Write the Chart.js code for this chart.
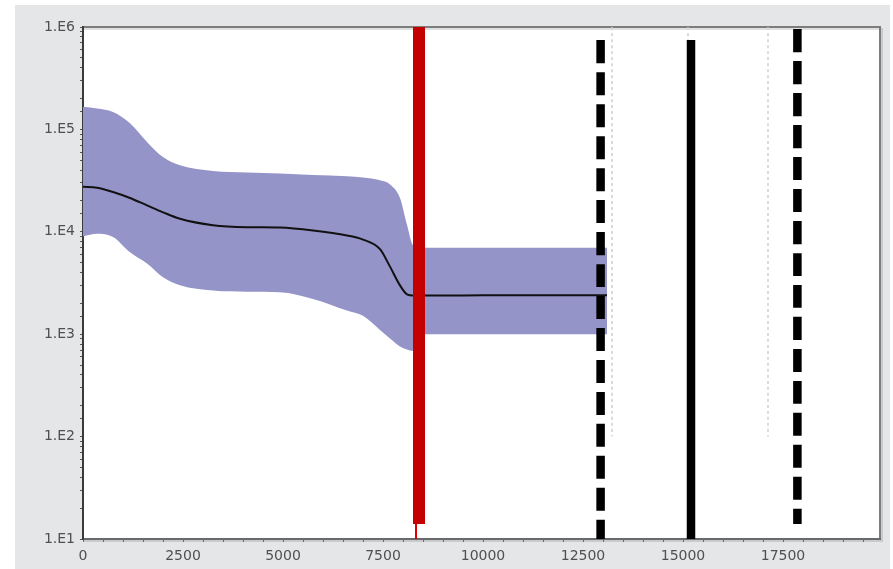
<!DOCTYPE html>
<html>
<head>
<meta charset="utf-8">
<script src="https://cdn.jsdelivr.net/npm/chart.js@4.4.1/dist/chart.umd.min.js"></script>
<style>
  html, body { margin: 0; padding: 0; background: #ffffff; width: 893px; height: 569px; overflow: hidden; }
  #panel { position: absolute; left: 15px; top: 5px; width: 875px; height: 564px; background: #e4e6e7; }
  #c { position: absolute; left: 0; top: 0; }
</style>
</head>
<body>
<div id="panel"></div>
<canvas id="c" width="893" height="569"></canvas>
<script>
// ---- data ----
const xs     = [0, 350, 750, 1175, 1600, 2000, 2425, 3250, 4100, 4925, 5750, 6600, 7000, 7425, 7675, 7925, 8100, 8250, 8550, 9500, 10500, 11500, 12500, 13100];
const upper  = [166000, 160000, 148000, 115000, 75500, 53700, 44700, 39300, 38000, 37000, 35900, 34800, 33900, 31800, 29000, 21400, 11700, 7400, 6980, 6980, 6990, 7000, 7000, 7000];
const lower  = [9000, 9550, 8900, 6300, 4900, 3600, 3000, 2670, 2600, 2570, 2210, 1700, 1510, 1100, 910, 760, 710, 690, 1000, 1000, 1000, 1000, 1000, 1000];
const median = [27500, 26900, 24500, 21400, 18100, 15500, 13400, 11600, 11100, 11000, 10300, 9200, 8400, 6760, 4570, 3000, 2450, 2390, 2390, 2390, 2400, 2400, 2400, 2400];

// vertical markers: [x, yFrom, yTo]
const redBar    = [8400, 14, 1e6];
const redThin   = [8325, 10, 14];
const dashLineA = [12940, 746000, 10];
const solidLine = [15200, 746000, 10];
const dashLineB = [17860, 1e6, 14];
const dotLines  = [13225, 15125, 17125];
const dotRange  = [100, 1e6];

const xMax = 19925;
const xTickStep = 500;
const xTickLabels = [0, 2500, 5000, 7500, 10000, 12500, 15000, 17500];
const yTickLabels = ['1.E1', '1.E2', '1.E3', '1.E4', '1.E5', '1.E6'];

// ---- build datasets (lower "order" = drawn on top) ----
const pts = (arr) => xs.map((x, i) => ({ x: x, y: arr[i] }));
const vline = (v) => [{ x: v[0], y: v[1] }, { x: v[0], y: v[2] }];

const datasets = [
  { data: pts(lower), order: 20, borderWidth: 0, borderColor: 'rgba(0,0,0,0)', pointRadius: 0, fill: false, cubicInterpolationMode: 'monotone' },
  { data: pts(upper), order: 20, borderWidth: 0, borderColor: 'rgba(0,0,0,0)', pointRadius: 0, fill: '-1', backgroundColor: '#9494c8', cubicInterpolationMode: 'monotone' },
  { data: pts(median), order: 10, borderWidth: 2, borderColor: '#111111', pointRadius: 0, fill: false, cubicInterpolationMode: 'monotone' }
];
dotLines.forEach(x => datasets.push({ data: [{ x: x, y: dotRange[1] }, { x: x, y: dotRange[0] }], order: 8, borderWidth: 1.5, borderColor: '#d0d0d0', borderDash: [3, 3], pointRadius: 0, fill: false }));
datasets.push({ data: vline(redThin), order: 5, borderWidth: 2, borderColor: '#e00000', pointRadius: 0, fill: false });
datasets.push({ data: vline(redBar), order: 4, borderWidth: 12, borderColor: '#c40000', pointRadius: 0, fill: false, borderCapStyle: 'butt' });
datasets.push({ data: vline(dashLineA), order: 3, borderWidth: 8.5, borderColor: '#000000', borderDash: [23, 9], pointRadius: 0, fill: false, borderCapStyle: 'butt' });
datasets.push({ data: vline(solidLine), order: 3, borderWidth: 8.5, borderColor: '#000000', pointRadius: 0, fill: false, borderCapStyle: 'butt' });
datasets.push({ data: vline(dashLineB), order: 3, borderWidth: 8.5, borderColor: '#000000', borderDash: [23, 9], borderDashOffset: -2, pointRadius: 0, fill: false, borderCapStyle: 'butt', clip: false });

const bgPlugin = {
  id: 'plotBg',
  beforeDraw(chart) {
    const a = chart.chartArea, ctx = chart.ctx;
    ctx.save();
    ctx.fillStyle = '#ffffff';
    ctx.fillRect(a.left, a.top, a.right - a.left, a.bottom - a.top);
    ctx.strokeStyle = 'rgba(0,0,0,0.12)';
    ctx.lineWidth = 2;
    ctx.beginPath();
    ctx.moveTo(a.left, a.top + 2); ctx.lineTo(a.right + 2, a.top + 2); ctx.lineTo(a.right + 2, a.bottom + 2); ctx.lineTo(a.left, a.bottom + 2);
    ctx.stroke();
    ctx.strokeStyle = '#7d7d7d';
    ctx.lineWidth = 2;
    ctx.beginPath();
    ctx.moveTo(a.left, a.top); ctx.lineTo(a.right, a.top); ctx.lineTo(a.right, a.bottom);
    ctx.stroke();
    ctx.restore();
  }
};

const tickFont = { family: '"DejaVu Sans", Verdana, sans-serif', size: 14 };

new Chart(document.getElementById('c'), {
  type: 'line',
  data: { datasets: datasets },
  options: {
    responsive: false,
    animation: false,
    devicePixelRatio: 1,
    layout: { padding: { left: 15, top: 27, right: 13, bottom: 2 } },
    plugins: { legend: { display: false }, tooltip: { enabled: false } },
    elements: { line: { tension: 0.4 } },
    scales: {
      x: {
        type: 'linear',
        min: 0,
        max: xMax,
        afterFit(scale) { scale.height = 28; },
        afterBuildTicks(scale) {
          const t = [];
          for (let v = 0; v < xMax; v += xTickStep) t.push({ value: v });
          scale.ticks = t;
        },
        border: { display: true, color: '#6a6a6a', width: 2 },
        grid: { display: true, drawOnChartArea: false, drawTicks: true, tickLength: 3, color: '#6a6a6a' },
        ticks: {
          autoSkip: false,
          maxRotation: 0,
          minRotation: 0,
          padding: 6,
          color: '#505050',
          font: tickFont,
          callback: (v) => xTickLabels.includes(v) ? String(v) : ''
        }
      },
      y: {
        type: 'logarithmic',
        min: 10,
        max: 1e6,
        afterFit(scale) { scale.width = 68; },
        border: { display: true, color: '#3a3a3a', width: 2 },
        grid: { display: true, drawOnChartArea: false, drawTicks: true, tickLength: 3, color: '#555555' },
        ticks: {
          autoSkip: false,
          padding: 5,
          color: '#505050',
          font: tickFont,
          callback: (v) => {
            const e = Math.log10(v);
            if (Math.abs(e - Math.round(e)) < 1e-9) {
              const idx = Math.round(e) - 1;
              return yTickLabels[idx] !== undefined ? yTickLabels[idx] : '';
            }
            return '';
          }
        }
      }
    }
  },
  plugins: [bgPlugin]
});
</script>
</body>
</html>
